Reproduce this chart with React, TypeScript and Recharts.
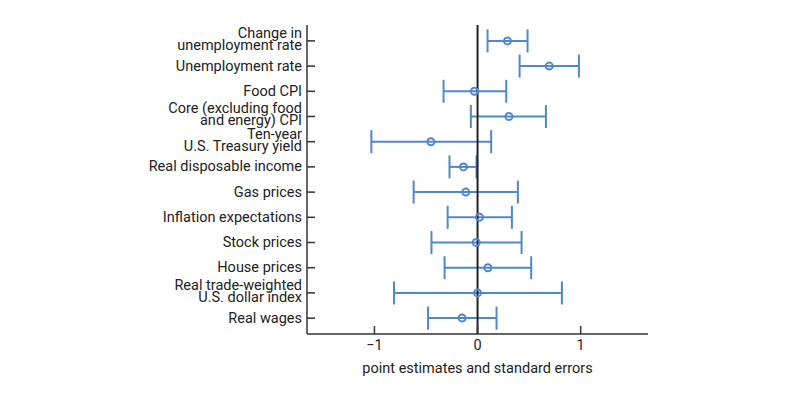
import React from "react";
import { ScatterChart, Scatter, XAxis, YAxis, ErrorBar, ReferenceLine } from "recharts";

const categories = [
  "Change in\nunemployment rate",
  "Unemployment rate",
  "Food CPI",
  "Core (excluding food\nand energy) CPI",
  "Ten-year\nU.S. Treasury yield",
  "Real disposable income",
  "Gas prices",
  "Inflation expectations",
  "Stock prices",
  "House prices",
  "Real trade-weighted\nU.S. dollar index",
  "Real wages",
];
const estimates = [0.29, 0.695, -0.03, 0.304, -0.453, -0.136, -0.114, 0.019, -0.013, 0.1, 0.0, -0.15];
const lowerBounds = [0.097, 0.408, -0.33, -0.065, -1.03, -0.272, -0.62, -0.29, -0.447, -0.32, -0.81, -0.48];
const upperBounds = [0.485, 0.983, 0.278, 0.663, 0.132, -0.01, 0.391, 0.333, 0.427, 0.52, 0.818, 0.184];
const xTicks = [-1, 0, 1];

const n = categories.length;
const data = categories.map((c, i) => ({
  name: c,
  x: estimates[i],
  y: n - i,
  err: [estimates[i] - lowerBounds[i], upperBounds[i] - estimates[i]],
}));

const BLUE = "#4f88cc";
const AXIS = "#333333";
const FONT = "Roboto, sans-serif";
const FS = 14.5;

const YTick = (props: any) => {
  const { x, y, payload } = props;
  const idx = n - payload.value;
  const label = categories[idx] || "";
  const lines = label.split("\n");
  const lh = 12;
  const start = lines.length > 1 ? -((lines.length - 1) * lh) / 2 - 1.5 : 0;
  return (
    <g>
      <line x1={x + 5} x2={x + 13} y1={y} y2={y} stroke={AXIS} strokeWidth={1.5} />
      <text x={x} y={y} textAnchor="end" fontFamily={FONT} fontSize={FS} fill="#222">
        {lines.map((l: string, i: number) => (
          <tspan key={i} x={x} y={y + start + i * lh} dominantBaseline="central">
            {l}
          </tspan>
        ))}
      </text>
    </g>
  );
};

const XTick = (props: any) => {
  const { x, y, payload } = props;
  const v = payload.value;
  const txt = v < 0 ? "\u2212" + Math.abs(v) : String(v);
  return (
    <g>
      <line x1={x} x2={x} y1={y} y2={y - 8} stroke={AXIS} strokeWidth={1.5} />
      <text x={x} y={y + 11} textAnchor="middle" dominantBaseline="central" fontFamily={FONT} fontSize={FS} fill="#222">
        {txt}
      </text>
    </g>
  );
};

const Dot = (props: any) => {
  const { cx, cy } = props;
  return <circle cx={cx} cy={cy} r={3.5} fill="none" stroke={BLUE} strokeWidth={2} />;
};

export default function App() {
  return (
    <div style={{ position: "fixed", left: 0, top: 0, width: 800, height: 397, background: "#fff" }}>
      <ScatterChart width={800} height={397} margin={{ top: 25, right: 152, bottom: 0, left: 0 }}>
        <XAxis
          type="number"
          dataKey="x"
          domain={[-1.654, 1.653]}
          ticks={xTicks}
          allowDataOverflow
          height={63}
          stroke={AXIS}
          strokeWidth={1.5}
          tickLine={false}
          tickSize={0}
          tickMargin={0}
          tick={<XTick />}
          label={{ value: "point estimates and standard errors", position: "insideBottom", offset: 24, style: { fontFamily: FONT, fontSize: FS, fill: "#222" } }}
        />
        <YAxis
          type="number"
          dataKey="y"
          domain={[0.37, 12.63]}
          ticks={[1, 2, 3, 4, 5, 6, 7, 8, 9, 10, 11, 12]}
          allowDataOverflow
          width={307}
          stroke={AXIS}
          strokeWidth={1.5}
          tickLine={false}
          tickSize={0}
          tickMargin={5}
          tick={<YTick />}
        />
        <Scatter data={data} isAnimationActive={false} shape={<Dot />}>
          <ErrorBar dataKey="err" direction="x" width={11.5} stroke={BLUE} strokeWidth={2} isAnimationActive={false} />
        </Scatter>
        <ReferenceLine x={0} stroke="#222" strokeWidth={2} />
      </ScatterChart>
    </div>
  );
}
